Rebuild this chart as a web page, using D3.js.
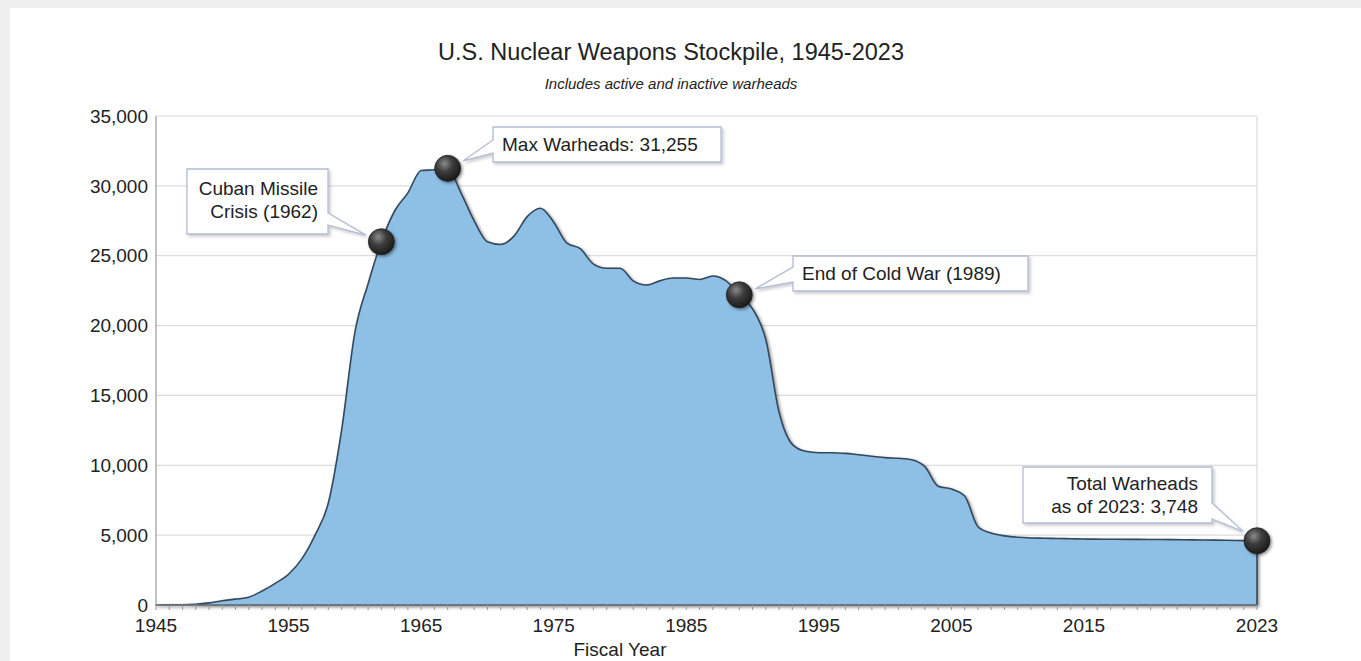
<!DOCTYPE html>
<html>
<head>
<meta charset="utf-8">
<script src="https://cdn.jsdelivr.net/npm/d3@7"></script>
<style>
  body { margin: 0; background: #efefef; }
  text { font-family: "Liberation Sans", Arial, sans-serif; fill: #222; }
</style>
</head>
<body>
<div id="graph"></div>
<script>
// stockpile size per fiscal year
var years = d3.range(1945, 2024);
var warheads = [
  2, 9, 13, 50, 150, 300, 420, 560, 1000, 1550,            // 1945-1954
  2200, 3300, 5000, 7300, 12500, 19500, 23000, 26000, 28200, 29500, // 1955-1964
  31100, 31150, 31255, 29500, 27500, 26000, 25800, 26400, 27800, 28400, // 1965-1974
  27400, 25900, 25500, 24400, 24100, 24100, 23200, 22900, 23200, 23400, // 1975-1984
  23400, 23300, 23550, 23200, 22200, 21200, 19000, 13800, 11500, 11000, // 1985-1994
  10900, 10900, 10850, 10750, 10650, 10550, 10500, 10400, 9900, 8500,   // 1995-2004
  8300, 7800, 5600, 5150, 4950, 4850, 4800, 4780, 4760, 4740,           // 2005-2014
  4720, 4710, 4700, 4690, 4680, 4660, 4640, 4620, 4600                  // 2015-2023
];
var xTickYears = [1945, 1955, 1965, 1975, 1985, 1995, 2005, 2015, 2023];
var yTickValues = [0, 5000, 10000, 15000, 20000, 25000, 30000, 35000];

var noteYears = [1962, 1967, 1989, 2023];
var noteLines = [
  ["Cuban Missile", "Crisis (1962)"],
  ["Max Warheads: 31,255"],
  ["End of Cold War (1989)"],
  ["Total Warheads", "as of 2023: 3,748"]
];

var width = 1361,
    height = 661;

var svg = d3.select("#graph")
    .append("svg")
    .attr("width", width)
    .attr("height", height);

var defs = svg.append("defs");

var shadow = defs.append("filter").attr("id", "shadow")
    .attr("x", "-10%").attr("y", "-10%").attr("width", "130%").attr("height", "130%");
shadow.append("feDropShadow")
    .attr("dx", 1.5).attr("dy", 1.5).attr("stdDeviation", 1.5)
    .attr("flood-color", "#000").attr("flood-opacity", 0.45);

var boxShadow = defs.append("filter").attr("id", "boxshadow")
    .attr("x", "-10%").attr("y", "-20%").attr("width", "130%").attr("height", "150%");
boxShadow.append("feDropShadow")
    .attr("dx", 2).attr("dy", 2).attr("stdDeviation", 1.5)
    .attr("flood-color", "#556").attr("flood-opacity", 0.3);

var ball = defs.append("radialGradient").attr("id", "ball")
    .attr("cx", "38%").attr("cy", "32%").attr("r", "70%");
ball.append("stop").attr("offset", "0%").attr("stop-color", "#8a8a8a");
ball.append("stop").attr("offset", "45%").attr("stop-color", "#3c3c3c");
ball.append("stop").attr("offset", "100%").attr("stop-color", "#1a1a1a");

// white card on the grey page
svg.append("rect")
    .attr("x", 10).attr("y", 8)
    .attr("width", width - 10).attr("height", height - 8)
    .style("fill", "#fff");

// the last label sits at the right end, the axis runs on past 2015 wider
var x = d3.scaleLinear()
    .domain([1945, 2015, 2023])
    .range([156, 1084, 1257]);

var y = d3.scaleLinear()
    .domain([0, 35000])
    .range([605, 116]);

// grid + frame
svg.append("g")
    .selectAll("line")
    .data(yTickValues.slice(1))
    .enter()
    .append("line")
    .attr("x1", x(1945)).attr("x2", x(2023))
    .attr("y1", d => y(d)).attr("y2", d => y(d))
    .style("stroke", "#dcdcdc").style("stroke-width", 1.2);

svg.append("line")
    .attr("x1", x(2023)).attr("x2", x(2023))
    .attr("y1", y(35000)).attr("y2", y(0))
    .style("stroke", "#dcdcdc").style("stroke-width", 1.2);

var data = years.map((yr, i) => ({ year: yr, value: warheads[i] }));

var area = d3.area()
    .x(d => x(d.year))
    .y0(y(0))
    .y1(d => y(d.value))
    .curve(d3.curveMonotoneX);

svg.append("path")
    .datum(data)
    .attr("d", area)
    .attr("filter", "url(#shadow)")
    .style("fill", "#8ebfe5")
    .style("stroke", "#34495c")
    .style("stroke-width", 1.6)
    .style("stroke-linejoin", "round");

// y axis
svg.append("line")
    .attr("x1", x(1945)).attr("x2", x(1945))
    .attr("y1", y(35000)).attr("y2", y(0))
    .style("stroke", "#9a9a9a").style("stroke-width", 1.2);

svg.append("g")
    .selectAll("text")
    .data(yTickValues)
    .enter()
    .append("text")
    .attr("x", 148)
    .attr("y", d => y(d))
    .attr("dy", "0.35em")
    .style("text-anchor", "end")
    .style("font-size", "19px")
    .text(d => d3.format(",")(d));

// x axis with yearly minor ticks
svg.append("line")
    .attr("x1", x(1945)).attr("x2", x(2023))
    .attr("y1", y(0)).attr("y2", y(0))
    .style("stroke", "#8a8a8a").style("stroke-width", 1.2);

var minorTicks = d3.range(1945, 2016).concat(d3.range(1, 14).map(k => 2015 + k * 8 / 13));
svg.append("g")
    .selectAll("line")
    .data(minorTicks)
    .enter()
    .append("line")
    .attr("x1", d => x(d)).attr("x2", d => x(d))
    .attr("y1", y(0)).attr("y2", y(0) + 5)
    .style("stroke", "#999").style("stroke-width", 1);

svg.append("g")
    .selectAll("text")
    .data(xTickYears)
    .enter()
    .append("text")
    .attr("x", d => x(d))
    .attr("y", 632)
    .style("text-anchor", "middle")
    .style("font-size", "19px")
    .text(d => d);

svg.append("text")
    .attr("x", 620).attr("y", 656)
    .style("text-anchor", "middle")
    .style("font-size", "19px")
    .text("Fiscal Year");

// titles
svg.append("text")
    .attr("x", 671).attr("y", 60)
    .style("text-anchor", "middle")
    .style("font-size", "23.5px")
    .text("U.S. Nuclear Weapons Stockpile, 1945-2023");

svg.append("text")
    .attr("x", 671).attr("y", 89)
    .style("text-anchor", "middle")
    .style("font-size", "15px")
    .style("font-style", "italic")
    .text("Includes active and inactive warheads");

// callouts: box layout + pointer side
var boxes = [
  { x: 187, y: 169, w: 141, h: 65, side: "right", p0: 44, p1: 56, anchor: "end", tx: 131, ty: 26 },
  { x: 493, y: 127, w: 228, h: 35, side: "left", p0: 13, p1: 26, anchor: "start", tx: 9, ty: 24 },
  { x: 793, y: 256, w: 235, h: 35, side: "left", p0: 11, p1: 26, anchor: "start", tx: 9, ty: 24 },
  { x: 1023, y: 467, w: 189, h: 56, side: "right", p0: 36, p1: 52, anchor: "end", tx: 175, ty: 23 }
];
var r = 13;

noteYears.forEach(function(yr, i) {
  var b = boxes[i];
  var cx = x(yr), cy = y(warheads[years.indexOf(yr)]);
  var ax = b.side === "right" ? b.x + b.w : b.x;
  var my = b.y + (b.p0 + b.p1) / 2;
  var len = Math.hypot(ax - cx, my - cy);
  var tx = cx + (ax - cx) / len * (r + 4),
      ty = cy + (my - cy) / len * (r + 4);
  var p = d3.path();
  if (b.side === "right") {
    p.moveTo(b.x, b.y);
    p.lineTo(b.x + b.w, b.y);
    p.lineTo(b.x + b.w, b.y + b.p0);
    p.lineTo(tx, ty);
    p.lineTo(b.x + b.w, b.y + b.p1);
    p.lineTo(b.x + b.w, b.y + b.h);
    p.lineTo(b.x, b.y + b.h);
  } else {
    p.moveTo(b.x, b.y);
    p.lineTo(b.x + b.w, b.y);
    p.lineTo(b.x + b.w, b.y + b.h);
    p.lineTo(b.x, b.y + b.h);
    p.lineTo(b.x, b.y + b.p1);
    p.lineTo(tx, ty);
    p.lineTo(b.x, b.y + b.p0);
  }
  p.closePath();

  svg.append("circle")
      .attr("cx", cx).attr("cy", cy).attr("r", r)
      .attr("filter", "url(#shadow)")
      .style("fill", "url(#ball)")
      .style("stroke", "#222").style("stroke-width", 0.8);

  svg.append("path")
      .attr("d", p.toString())
      .attr("filter", "url(#boxshadow)")
      .style("fill", "#fff")
      .style("stroke", "#b3bcd4")
      .style("stroke-width", 1.3);

  svg.append("text")
      .attr("x", b.x + b.tx)
      .attr("y", b.y + b.ty)
      .style("text-anchor", b.anchor)
      .style("font-size", "19px")
      .selectAll("tspan")
      .data(noteLines[i])
      .enter()
      .append("tspan")
      .attr("x", b.x + b.tx)
      .attr("dy", (d, j) => j === 0 ? 0 : 23)
      .text(d => d);
});
</script>
</body>
</html>
